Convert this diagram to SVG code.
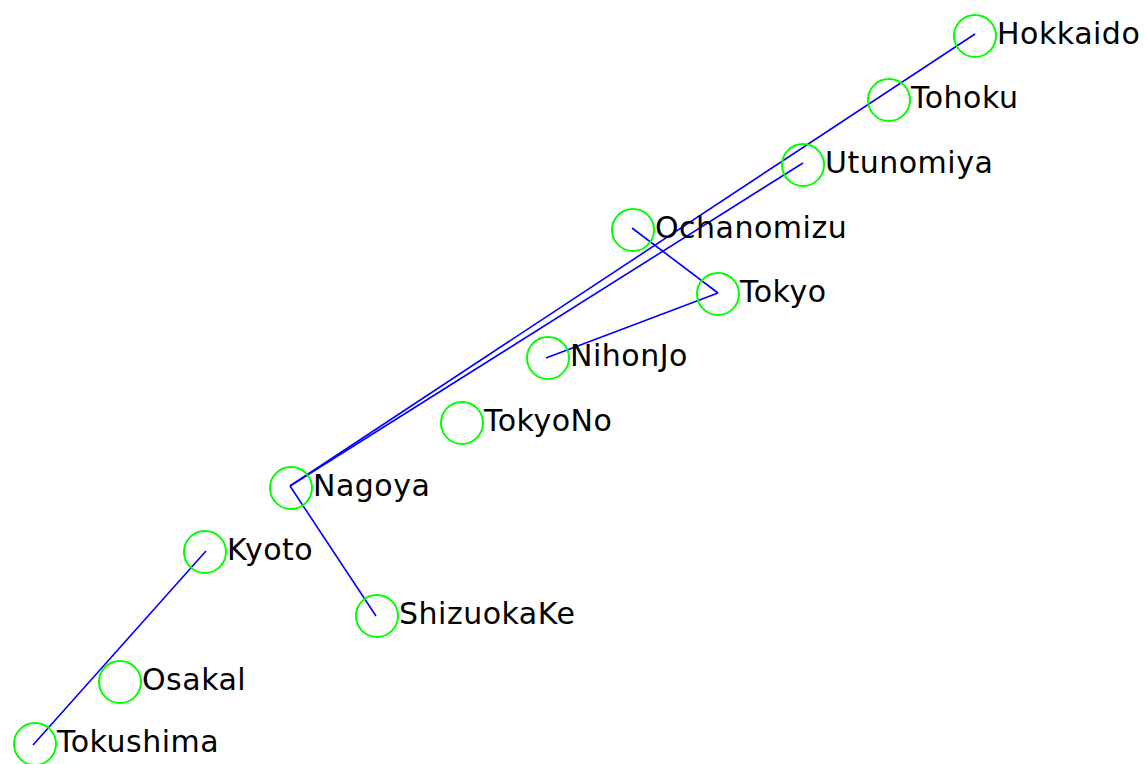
<svg xmlns="http://www.w3.org/2000/svg" width="1146" height="764" viewBox="0 0 1146 764">
<style>
.n{fill:none;stroke:#00ff00;stroke-width:2}
.t{font-family:"DejaVu Sans",sans-serif;font-size:30px;letter-spacing:0.5px;fill:#000}
.e{stroke:#0000ff;stroke-width:1.6;fill:none}
</style>
<rect width="1146" height="764" fill="#fff"/>
<g id="connectors">
<line class="e" x1="290" y1="486" x2="975" y2="34"/>
<line class="e" x1="290" y1="486" x2="803" y2="163"/>
<line class="e" x1="632" y1="228" x2="718" y2="293"/>
<line class="e" x1="718" y1="293" x2="546" y2="358"/>
<line class="e" x1="290" y1="486" x2="376" y2="616"/>
<line class="e" x1="206" y1="551" x2="33" y2="745"/>
</g>
<g id="Hokkaido"><circle class="n" cx="975" cy="36" r="21"/><text class="t" x="997" y="44">Hokkaido</text></g>
<g id="Tohoku"><circle class="n" cx="889" cy="100" r="21"/><text class="t" x="911" y="108">Tohoku</text></g>
<g id="Utunomiya"><circle class="n" cx="803" cy="165" r="21"/><text class="t" x="825" y="173">Utunomiya</text></g>
<g id="Ochanomizu"><circle class="n" cx="633" cy="230" r="21"/><text class="t" x="655" y="238">Ochanomizu</text></g>
<g id="Tokyo"><circle class="n" cx="718" cy="294" r="21"/><text class="t" x="740" y="302">Tokyo</text></g>
<g id="NihonJo"><circle class="n" cx="548" cy="358" r="21"/><text class="t" x="570" y="366">NihonJo</text></g>
<g id="TokyoNo"><circle class="n" cx="462" cy="423" r="21"/><text class="t" x="484" y="431">TokyoNo</text></g>
<g id="Nagoya"><circle class="n" cx="291" cy="488" r="21"/><text class="t" x="313" y="496">Nagoya</text></g>
<g id="Kyoto"><circle class="n" cx="205" cy="552" r="21"/><text class="t" x="227" y="560">Kyoto</text></g>
<g id="ShizuokaKe"><circle class="n" cx="377" cy="616" r="21"/><text class="t" x="399" y="624">ShizuokaKe</text></g>
<g id="Osakal"><circle class="n" cx="120" cy="682" r="21"/><text class="t" x="142" y="690">Osakal</text></g>
<g id="Tokushima"><circle class="n" cx="35" cy="744" r="21"/><text class="t" x="57" y="752">Tokushima</text></g>
</svg>
